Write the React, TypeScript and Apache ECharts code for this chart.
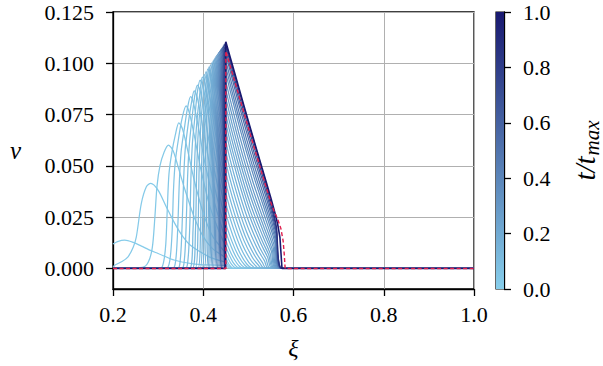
import React, { useEffect, useRef } from "react";
import * as echarts from "echarts";

const X_TICKS = [0.2, 0.4, 0.6, 0.8, 1.0];
const Y_TICKS = [0, 0.025, 0.05, 0.075, 0.1, 0.125];
const CBAR_TICKS = [0, 0.2, 0.4, 0.6, 0.8, 1.0];

// early, well-separated profiles: [xi, v]
const c01 = [[0.2,0.0119],[0.21,0.0131],[0.226,0.0138],[0.245,0.0127],[0.263,0.0109],[0.28,0.0091],[0.3,0.0073],[0.337,0.004],[0.374,0.0024],[0.41,0.0017],[0.45,0.0015],[0.453,0.0009],[0.456,0.0004],[0.459,0.0001],[0.462,0],[1,0]];
const c02 = [[0.2,0.0008],[0.2037,0.0016],[0.22,0.0034],[0.2333,0.0057],[0.245,0.0105],[0.2517,0.0154],[0.2628,0.0317],[0.2739,0.0398],[0.2836,0.0415],[0.2998,0.0382],[0.3182,0.03],[0.3368,0.022],[0.3553,0.0154],[0.3737,0.0109],[0.41,0.006],[0.43,0.0043],[0.45,0.003],[0.4538,0.0018],[0.4575,0.0009],[0.4613,0.0002],[0.465,0],[1,0]];
const c03 = [[0.2,0],[0.265,0.0005],[0.278,0.003],[0.287,0.01],[0.2925,0.024],[0.2975,0.04],[0.304,0.05],[0.313,0.0565],[0.3227,0.0601],[0.333,0.0575],[0.345,0.049],[0.36,0.038],[0.38,0.025],[0.4,0.0155],[0.42,0.0098],[0.45,0.005],[0.4545,0.003],[0.459,0.0014],[0.4635,0.0004],[0.468,0],[1,0]];
const c04 = [[0.2,0],[0.305,0],[0.312,0.003],[0.317,0.012],[0.3205,0.03],[0.324,0.046],[0.33,0.056],[0.338,0.065],[0.346,0.071],[0.354,0.068],[0.365,0.058],[0.38,0.043],[0.4,0.027],[0.42,0.016],[0.45,0.0073],[0.4563,0.0044],[0.4625,0.0021],[0.4688,0.0006],[0.475,0],[1,0]];
const c05 = [[0.2,0],[0.318,0],[0.326,0.004],[0.331,0.018],[0.334,0.038],[0.338,0.052],[0.345,0.063],[0.353,0.073],[0.362,0.0792],[0.369,0.076],[0.38,0.065],[0.395,0.048],[0.415,0.03],[0.435,0.018],[0.45,0.0105],[0.458,0.0063],[0.466,0.003],[0.474,0.0009],[0.482,0],[1,0]];
const c06 = [[0.2,0],[0.332,0],[0.339,0.004],[0.3435,0.02],[0.347,0.042],[0.351,0.057],[0.358,0.068],[0.365,0.078],[0.372,0.0837],[0.379,0.08],[0.39,0.068],[0.405,0.05],[0.425,0.032],[0.45,0.0138],[0.46,0.0082],[0.47,0.004],[0.48,0.0011],[0.49,0],[1,0]];
const c07 = [[0.2,0],[0.343,0],[0.349,0.004],[0.353,0.02],[0.3565,0.043],[0.36,0.058],[0.367,0.071],[0.374,0.081],[0.38,0.0866],[0.387,0.083],[0.398,0.07],[0.413,0.052],[0.43,0.035],[0.45,0.018],[0.4618,0.0107],[0.4735,0.0052],[0.4853,0.0015],[0.497,0],[1,0]];
const c08 = [[0.2,0],[0.352,0],[0.358,0.004],[0.362,0.02],[0.3652,0.044],[0.369,0.06],[0.375,0.073],[0.381,0.084],[0.387,0.0894],[0.394,0.086],[0.405,0.072],[0.42,0.053],[0.435,0.037],[0.45,0.022],[0.4638,0.0131],[0.4775,0.0063],[0.4913,0.0018],[0.505,0],[1,0]];
const c09 = [[0.2,0],[0.36,0],[0.366,0.004],[0.37,0.02],[0.3728,0.045],[0.376,0.061],[0.382,0.075],[0.387,0.086],[0.393,0.0918],[0.4,0.088],[0.41,0.076],[0.425,0.056],[0.44,0.038],[0.45,0.027],[0.4655,0.0161],[0.481,0.0077],[0.4965,0.0022],[0.512,0],[1,0]];

// later, densely packed profiles
const d01 = [[0.2,0],[0.3698,0],[0.3773,0.0186],[0.3801,0.0466],[0.3843,0.0671],[0.3908,0.082],[0.398,0.0932],[0.424,0.064],[0.45,0.032],[0.467,0.0194],[0.484,0.0096],[0.501,0.003],[0.5112,0.0008],[0.518,0],[1,0]];
const d02 = [[0.2,0],[0.3759,0],[0.3828,0.0189],[0.3854,0.0473],[0.3893,0.068],[0.3953,0.0832],[0.402,0.0945],[0.426,0.067],[0.45,0.037],[0.4685,0.0227],[0.487,0.0116],[0.5055,0.004],[0.5166,0.0012],[0.524,0],[1,0]];
const d03 = [[0.2,0],[0.3821,0],[0.3884,0.0192],[0.3908,0.0479],[0.3944,0.069],[0.3999,0.0843],[0.406,0.0958],[0.428,0.07],[0.45,0.042],[0.47,0.0261],[0.49,0.0137],[0.51,0.005],[0.522,0.0017],[0.53,0],[1,0]];
const d04 = [[0.2,0],[0.3883,0],[0.394,0.0194],[0.3962,0.0486],[0.3994,0.07],[0.4044,0.0855],[0.41,0.0972],[0.43,0.073],[0.45,0.047],[0.4713,0.0297],[0.4925,0.016],[0.5138,0.0063],[0.5265,0.0023],[0.535,0],[1,0]];
const d05 = [[0.2,0],[0.3929,0],[0.3982,0.0196],[0.4002,0.0491],[0.4032,0.0707],[0.4078,0.0864],[0.413,0.0982],[0.4315,0.076],[0.45,0.052],[0.4725,0.0333],[0.495,0.0184],[0.5175,0.0076],[0.531,0.003],[0.54,0],[1,0]];
const d06 = [[0.2,0],[0.3975,0],[0.4024,0.0198],[0.4043,0.0496],[0.407,0.0714],[0.4112,0.0873],[0.416,0.0992],[0.433,0.079],[0.45,0.057],[0.4738,0.037],[0.4975,0.0209],[0.5213,0.0091],[0.5355,0.0038],[0.545,0],[1,0]];
const d07 = [[0.2,0],[0.4021,0],[0.4066,0.02],[0.4083,0.0501],[0.4108,0.0721],[0.4147,0.0882],[0.419,0.1002],[0.4345,0.082],[0.45,0.062],[0.4748,0.0407],[0.4995,0.0236],[0.5243,0.0106],[0.5391,0.0046],[0.549,0],[1,0]];
const d08 = [[0.2,0],[0.4068,0],[0.4108,0.0202],[0.4123,0.0506],[0.4146,0.0729],[0.4181,0.0891],[0.422,0.1012],[0.436,0.085],[0.45,0.067],[0.4758,0.0446],[0.5015,0.0263],[0.5273,0.0123],[0.5427,0.0055],[0.553,0],[1,0]];
const d09 = [[0.2,0],[0.4099,0],[0.4136,0.0204],[0.4151,0.0509],[0.4172,0.0733],[0.4204,0.0896],[0.424,0.1018],[0.45,0.071],[0.4765,0.0479],[0.503,0.0288],[0.5295,0.014],[0.5454,0.0065],[0.556,0],[1,0]];
const d10 = [[0.2,0],[0.4129,0],[0.4164,0.0205],[0.4177,0.0513],[0.4196,0.0738],[0.4226,0.0902],[0.426,0.1025],[0.45,0.075],[0.4773,0.0513],[0.5045,0.0314],[0.5318,0.0158],[0.5481,0.0074],[0.559,0],[1,0]];
const d11 = [[0.2,0],[0.4161,0],[0.4193,0.0206],[0.4204,0.0516],[0.4222,0.0743],[0.425,0.0908],[0.428,0.1032],[0.45,0.079],[0.478,0.0547],[0.506,0.0342],[0.534,0.0175],[0.5508,0.0085],[0.562,0],[1,0]];
const d12 = [[0.2,0],[0.4191,0],[0.422,0.0208],[0.4231,0.0519],[0.4247,0.0747],[0.4272,0.0913],[0.43,0.1038],[0.45,0.083],[0.4785,0.0582],[0.507,0.037],[0.5355,0.0195],[0.5526,0.0095],[0.564,0],[1,0]];
const d13 = [[0.2,0],[0.4222,0],[0.4248,0.0209],[0.4257,0.0523],[0.4272,0.0752],[0.4295,0.092],[0.432,0.1045],[0.45,0.087],[0.479,0.0618],[0.508,0.0399],[0.537,0.0216],[0.5544,0.0108],[0.566,0],[1,0]];
const d14 = [[0.2,0],[0.4253,0],[0.4276,0.021],[0.4285,0.0526],[0.4298,0.0757],[0.4318,0.0926],[0.434,0.1052],[0.45,0.091],[0.4795,0.0654],[0.509,0.043],[0.5385,0.0238],[0.5562,0.012],[0.568,0],[1,0]];
const d15 = [[0.2,0],[0.4284,0],[0.4304,0.0212],[0.4311,0.0529],[0.4323,0.0762],[0.434,0.0931],[0.436,0.1058],[0.45,0.095],[0.48,0.0691],[0.51,0.0462],[0.54,0.0259],[0.558,0.0133],[0.57,0],[1,0]];
const d16 = [[0.2,0],[0.4315,0],[0.4333,0.0213],[0.4339,0.0533],[0.4349,0.0767],[0.4364,0.0937],[0.438,0.1065],[0.45,0.098],[0.4803,0.0721],[0.5105,0.0489],[0.5408,0.028],[0.5589,0.0146],[0.571,0],[1,0]];
const d17 = [[0.2,0],[0.4346,0],[0.436,0.0214],[0.4365,0.0536],[0.4374,0.0772],[0.4386,0.0943],[0.44,0.1072],[0.45,0.101],[0.4805,0.0752],[0.511,0.0517],[0.5415,0.0302],[0.5598,0.0159],[0.572,0],[1,0]];
const d18 = [[0.2,0],[0.4376,0],[0.4388,0.0216],[0.4392,0.0539],[0.4398,0.0776],[0.4408,0.0949],[0.442,0.1078],[0.45,0.104],[0.4808,0.0784],[0.5115,0.0546],[0.5423,0.0324],[0.5607,0.0172],[0.573,0],[1,0]];
const d19 = [[0.2,0],[0.4408,0],[0.4416,0.0217],[0.4419,0.0543],[0.4424,0.0781],[0.4432,0.0955],[0.444,0.1085],[0.45,0.106],[0.4809,0.0809],[0.5118,0.0571],[0.5426,0.0345],[0.5612,0.0183],[0.5735,0],[1,0]];
const d20 = [[0.2,0],[0.4438,0],[0.4444,0.0218],[0.4446,0.0546],[0.4449,0.0786],[0.4454,0.0961],[0.446,0.1092],[0.45,0.108],[0.481,0.0833],[0.512,0.0596],[0.543,0.0364],[0.5616,0.0197],[0.574,0],[1,0]];
const d21 = [[0.2,0],[0.447,0],[0.4472,0.022],[0.4473,0.0549],[0.4475,0.0791],[0.4478,0.0966],[0.448,0.1098],[0.45,0.1095],[0.4811,0.0854],[0.5121,0.0619],[0.5432,0.0383],[0.5618,0.0208],[0.5742,0],[1,0]];

// final profile (t = t_max)
const finalProfile = [[0.2,0],[0.4495,0],[0.45,0.1105],[0.46,0.1027],[0.47,0.095],[0.48,0.0872],[0.49,0.0795],[0.5,0.0718],[0.51,0.0642],[0.52,0.0567],[0.53,0.0492],[0.54,0.0418],[0.55,0.0342],[0.56,0.0262],[0.565,0.0215],[0.57,0.015],[0.5745,0],[1,0]];

// reference (red dashed)
const referenceProfile = [[0.2,0],[0.45,0],[0.45,0.106],[0.46,0.0985],[0.47,0.091],[0.48,0.0835],[0.49,0.076],[0.5,0.0685],[0.51,0.061],[0.52,0.0537],[0.53,0.0464],[0.54,0.0392],[0.55,0.032],[0.556,0.0285],[0.565,0.024],[0.572,0.0195],[0.577,0.0135],[0.5795,0.007],[0.5815,0],[1,0]];

const PROFILES = [c01,c02,c03,c04,c05,c06,c07,c08,c09,d01,d02,d03,d04,d05,d06,d07,d08,d09,d10,d11,d12,d13,d14,d15,d16,d17,d18,d19,d20,d21,finalProfile];
const PROFILE_T = [0.01,0.02,0.03,0.04,0.05,0.06,0.07,0.08,0.09,0.10,0.11,0.12,0.13,0.14,0.15,0.16,0.18,0.19,0.21,0.23,0.25,0.28,0.31,0.35,0.40,0.46,0.53,0.62,0.74,0.87,1.0];

const LOW = [135, 206, 235];
const HIGH = [25, 25, 112];
function cmap(t: number): string {
  const c = LOW.map((l, i) => Math.round(l + (HIGH[i] - l) * t));
  return `rgb(${c[0]},${c[1]},${c[2]})`;
}

const FONT = "Liberation Serif";

function buildOption() {
  const series: any[] = PROFILES.map((pts, i) => {
    const isFinal = i === PROFILES.length - 1;
    return {
      type: "line",
      xAxisIndex: 0,
      yAxisIndex: 0,
      data: pts,
      showSymbol: false,
      symbol: "none",
      smooth: isFinal ? false : 0.3,
      silent: true,
      z: 2,
      lineStyle: { color: cmap(PROFILE_T[i]), width: isFinal ? 1.6 : 1.25 },
    };
  });
  series.push({
    type: "line",
    xAxisIndex: 0,
    yAxisIndex: 0,
    data: referenceProfile,
    showSymbol: false,
    symbol: "none",
    silent: true,
    z: 3,
    lineStyle: { color: "#e0204e", width: 1.4, type: [4, 2.5] },
  });
  series.push({
    type: "bar",
    xAxisIndex: 1,
    yAxisIndex: 1,
    data: [1],
    barWidth: "100%",
    silent: true,
    itemStyle: {
      color: new echarts.graphic.LinearGradient(0, 1, 0, 0, [
        { offset: 0, color: cmap(0) },
        { offset: 1, color: cmap(1) },
      ]),
    },
  });

  const tickStyle = { color: "#000", width: 1.3 };
  const labelStyle = { fontFamily: FONT, fontSize: 22, color: "#000" };

  return {
    animation: false,
    backgroundColor: "#fff",
    grid: [
      { left: 113, top: 12, width: 361, height: 277, show: true, borderColor: "#000", borderWidth: 1.3, backgroundColor: "transparent" },
      { left: 496, top: 12, width: 14, height: 277, show: true, borderColor: "#000", borderWidth: 1.2, backgroundColor: "transparent" },
    ],
    xAxis: [
      {
        gridIndex: 0,
        type: "value",
        min: X_TICKS[0],
        max: X_TICKS[X_TICKS.length - 1],
        interval: 0.2,
        axisLine: { show: true, onZero: false, lineStyle: tickStyle },
        axisTick: { show: true, inside: false, length: 7, lineStyle: tickStyle },
        axisLabel: { ...labelStyle, margin: 14, formatter: (v: number) => v.toFixed(1) },
        splitLine: { show: true, lineStyle: { color: "#b0b0b0", width: 1 } },
        name: "ξ",
        nameLocation: "middle",
        nameGap: 47,
        nameTextStyle: { fontFamily: FONT, fontSize: 24, fontStyle: "italic", color: "#000" },
      },
      {
        gridIndex: 1,
        type: "category",
        data: ["cb"],
        show: false,
      },
    ],
    yAxis: [
      {
        gridIndex: 0,
        type: "value",
        min: -0.01,
        max: 0.125,
        axisLine: { show: true, onZero: false, lineStyle: tickStyle },
        axisTick: { show: true, inside: false, length: 7, lineStyle: tickStyle, customValues: Y_TICKS },
        axisLabel: { ...labelStyle, margin: 19, customValues: Y_TICKS, formatter: (v: number) => v.toFixed(3) },
        splitLine: { show: true, lineStyle: { color: "#b0b0b0", width: 1 } },
        name: "v",
        nameLocation: "middle",
        nameRotate: 0,
        nameGap: 92,
        nameTextStyle: { fontFamily: FONT, fontSize: 25, fontStyle: "italic", color: "#000" },
      },
      {
        gridIndex: 1,
        type: "value",
        position: "right",
        min: CBAR_TICKS[0],
        max: CBAR_TICKS[CBAR_TICKS.length - 1],
        interval: 0.2,
        axisLine: { show: true, lineStyle: tickStyle },
        axisTick: { show: true, inside: false, length: 7, lineStyle: tickStyle },
        axisLabel: { ...labelStyle, margin: 19, formatter: (v: number) => v.toFixed(1) },
        splitLine: { show: false },
        name: "{a|t/t}{b|max}",
        nameLocation: "middle",
        nameRotate: 90,
        nameGap: 64,
        nameTextStyle: {
          color: "#000",
          rich: {
            a: { fontFamily: FONT, fontSize: 29, fontStyle: "italic", color: "#000" },
            b: { fontFamily: FONT, fontSize: 21, fontStyle: "italic", color: "#000", padding: [13, 0, 0, 1] },
          },
        },
      },
    ],
    series,
  };
}

export default function App() {
  const ref = useRef<HTMLDivElement>(null);
  useEffect(() => {
    if (!ref.current) return;
    const chart = echarts.init(ref.current, null, { renderer: "svg" });
    chart.setOption(buildOption() as any);
    return () => chart.dispose();
  }, []);
  return (
    <div
      ref={ref}
      style={{ position: "fixed", left: 0, top: 0, width: 603, height: 366, background: "#fff" }}
    />
  );
}
